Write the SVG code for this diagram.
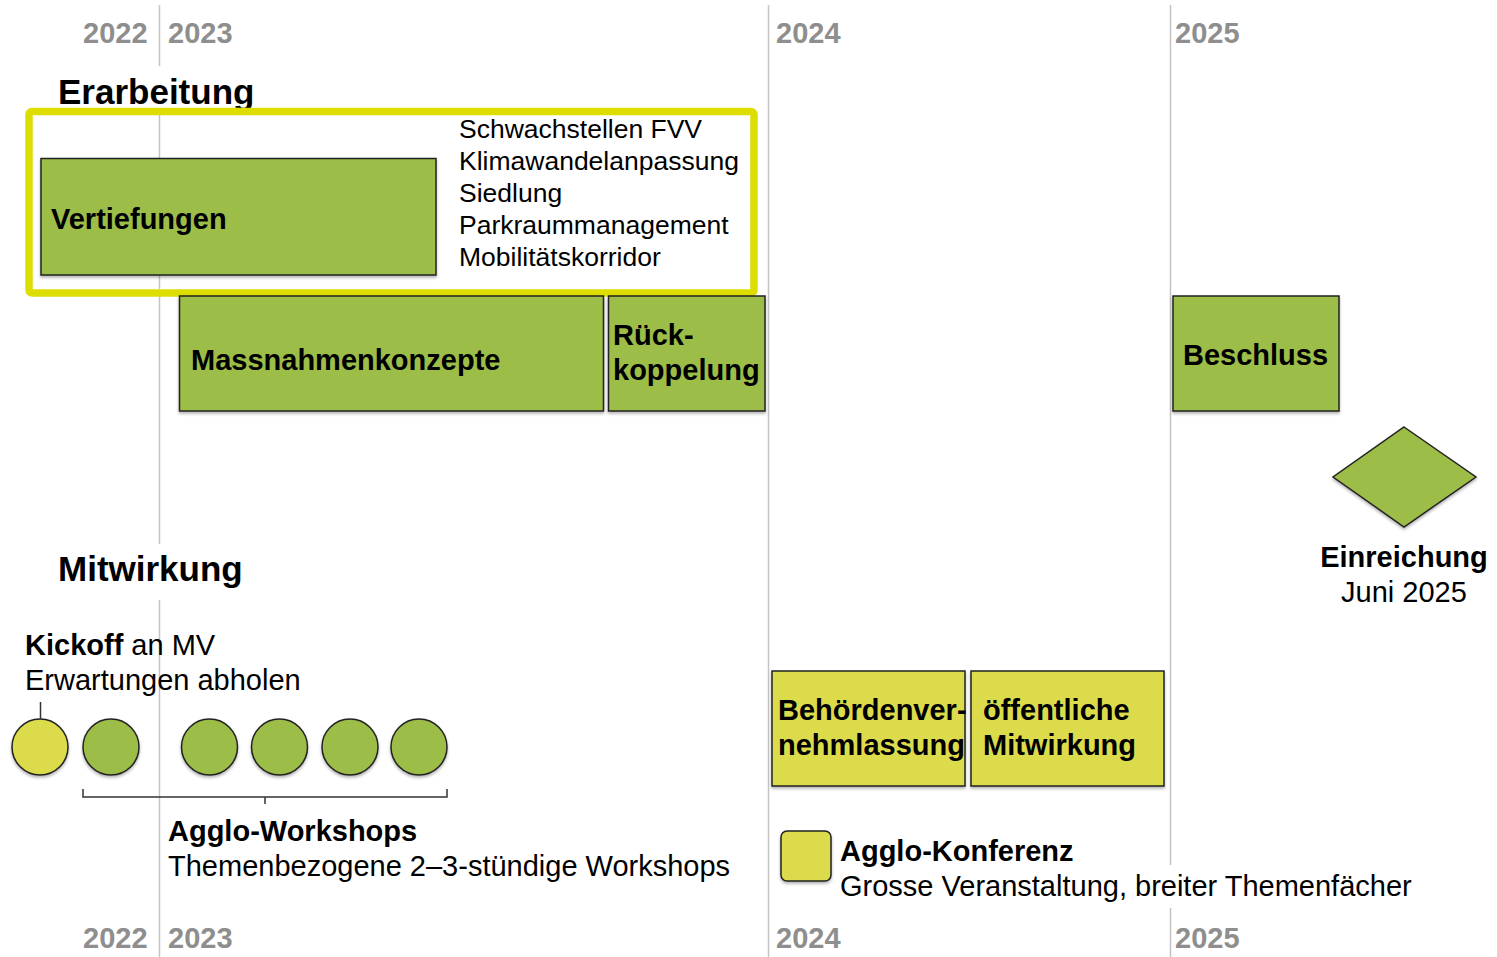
<svg xmlns="http://www.w3.org/2000/svg" width="1497" height="957" viewBox="0 0 1497 957">
<defs>
<filter id="sh" x="-10%" y="-10%" width="120%" height="130%">
<feDropShadow dx="0" dy="2" stdDeviation="1.5" flood-color="#000" flood-opacity="0.3"/>
</filter>
</defs>
<style>
text{font-family:"Liberation Sans",Arial,Helvetica,sans-serif;fill:#000}
.yr{font-size:29px;font-weight:bold;fill:#8e8e8e}
.h{font-size:35px;font-weight:bold}
.b{font-size:29px;font-weight:bold}
.r{font-size:29px}
.l{font-size:26.5px}
.grid{stroke:#c4c4c4;stroke-width:1.5;fill:none}
.g{fill:#9cbd47;stroke:#222;stroke-width:1.5;filter:url(#sh)}
.y{fill:#dcdb4b;stroke:#222;stroke-width:1.5;filter:url(#sh)}
.con{stroke:#333;stroke-width:1.5;fill:none}
</style>
<rect width="1497" height="957" fill="#fff"/>
<g id="grid">
<path class="grid" d="M159.5 5V66M159.5 122V544M159.5 600V957M768.5 5V957M1170.5 5V865M1170.5 908V957"/>
</g>
<g id="years">
<text class="yr" x="83" y="43">2022</text>
<text class="yr" x="168" y="43">2023</text>
<text class="yr" x="776" y="43">2024</text>
<text class="yr" x="1175" y="43">2025</text>
<text class="yr" x="83" y="948">2022</text>
<text class="yr" x="168" y="948">2023</text>
<text class="yr" x="776" y="948">2024</text>
<text class="yr" x="1175" y="948">2025</text>
</g>
<g id="erarbeitung">
<text class="h" x="58" y="104">Erarbeitung</text>
</g>
<g id="frame">
<rect x="29" y="111.5" width="725" height="181.5" rx="3" fill="#fff" stroke="#dedd00" stroke-width="7.5"/>
<line class="grid" x1="159.5" y1="115" x2="159.5" y2="289"/>
</g>
<g id="vertiefungen">
<rect class="g" x="41" y="158.5" width="395" height="116.5"/>
<text class="b" x="51" y="229">Vertiefungen</text>
</g>
<g id="themen">
<text class="l" x="459" y="138">Schwachstellen FVV</text>
<text class="l" x="459" y="170">Klimawandelanpassung</text>
<text class="l" x="459" y="202">Siedlung</text>
<text class="l" x="459" y="234">Parkraummanagement</text>
<text class="l" x="459" y="266">Mobilitätskorridor</text>
</g>
<g id="massnahmenkonzepte">
<rect class="g" x="179.5" y="296" width="424" height="115"/>
<text class="b" x="191" y="370">Massnahmenkonzepte</text>
</g>
<g id="rueckkoppelung">
<rect class="g" x="608.5" y="296" width="156.5" height="115"/>
<text class="b" x="613" y="345">Rück-</text>
<text class="b" x="613" y="380">koppelung</text>
</g>
<g id="beschluss">
<rect class="g" x="1173" y="296" width="166" height="115"/>
<text class="b" x="1183" y="365">Beschluss</text>
</g>
<g id="einreichung">
<polygon class="g" points="1404,427 1476,477 1404,527 1333,477"/>
<text class="b" x="1404" y="567" text-anchor="middle">Einreichung</text>
<text class="r" x="1404" y="602" text-anchor="middle">Juni 2025</text>
</g>
<g id="mitwirkung">
<text class="h" x="58" y="581">Mitwirkung</text>
</g>
<g id="kickoff">
<text class="r" x="25" y="655"><tspan font-weight="bold">Kickoff</tspan> an MV</text>
<text class="r" x="25" y="690">Erwartungen abholen</text>
<circle class="y" cx="40" cy="747" r="28"/>
</g>
<g id="workshops">
<circle class="g" cx="111" cy="747" r="28"/>
<circle class="g" cx="209.5" cy="747" r="28"/>
<circle class="g" cx="279.5" cy="747" r="28"/>
<circle class="g" cx="350" cy="747" r="28"/>
<circle class="g" cx="419" cy="747" r="28"/>
<text class="b" x="168" y="841">Agglo-Workshops</text>
<text class="r" x="168" y="876" font-size="29.5">Themenbezogene 2–3-stündige Workshops</text>
</g>
<g id="behoerden">
<rect class="y" x="772" y="671" width="193" height="115"/>
<text class="b" x="778" y="720">Behördenver-</text>
<text class="b" x="778" y="755">nehmlassung</text>
</g>
<g id="oeffentlich">
<rect class="y" x="971" y="671" width="193" height="115"/>
<text class="b" x="983" y="720">öffentliche</text>
<text class="b" x="983" y="755">Mitwirkung</text>
</g>
<g id="legende">
<rect class="y" x="781" y="831" width="50" height="50" rx="6"/>
<text class="b" x="840" y="861">Agglo-Konferenz</text>
<text class="r" x="840" y="896">Grosse Veranstaltung, breiter Themenfächer</text>
</g>
<g id="connectors">
<line class="con" x1="40.5" y1="702" x2="40.5" y2="719"/>
<path class="con" d="M83 789V797H447V789M265 797V804"/>
</g>
</svg>
